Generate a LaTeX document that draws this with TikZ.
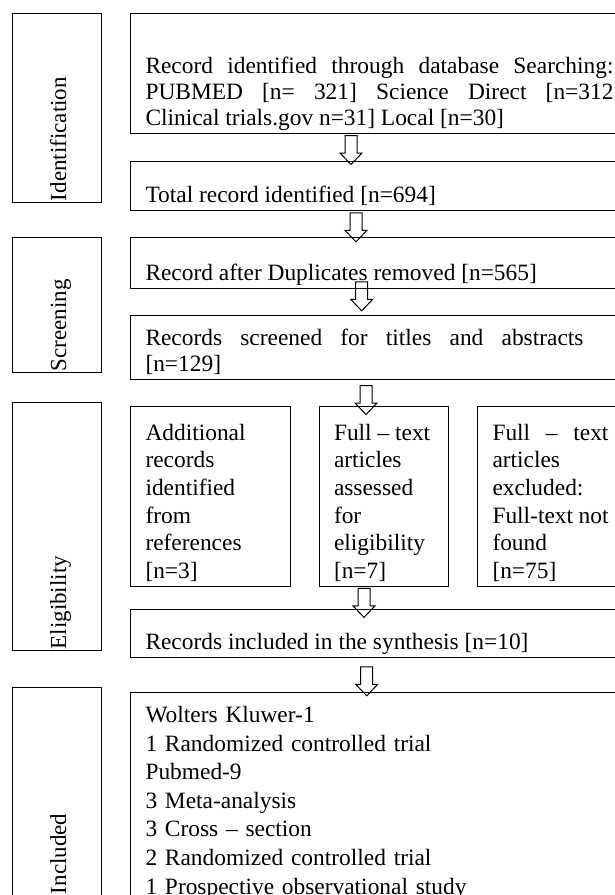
\documentclass[tikz,border=0pt]{standalone}
\usepackage{fontspec}
\setmainfont{Liberation Serif}

% text set at the bottom of a box
\newcommand{\lowtext}[3]{\parbox[b][#1][b]{#2}{#3\strut}}

\tikzset{
  hollowarrow/.pic={
    \draw[line width=1pt] (-6,0) -- (-6,17.5) -- (-11,17.5) -- (0,29) -- (11,17.5) -- (6,17.5) -- (6,0) -- cycle;
  }
}

\begin{document}
\begin{tikzpicture}[x=1pt,y=-1pt,
  every node/.style={font=\fontsize{23.4}{26}\selectfont},
  stage/.style={draw, line width=1pt, anchor=north west, inner sep=0pt, minimum width=88.4pt},
  stagename/.style={rotate=90, anchor=base west, inner sep=0pt, font=\fontsize{23}{26}\selectfont},
  box/.style={draw, line width=1pt, anchor=north west, inner xsep=15pt, inner ysep=0pt, align=left}
]
\useasboundingbox (0,0) rectangle (614,895);

% Stages on the left
\node[stage, minimum height=188.4pt] (ident) at (12.3,13.3) {};
\node[stagename] (identname) at ([xshift=53.7pt,yshift=1.5pt]ident.south west) {Identification};
\node[stage, minimum height=135.3pt] (screen) at (12.3,236.7) {};
\node[stagename] (screenname) at ([xshift=53.7pt,yshift=1.5pt]screen.south west) {Screening};
\node[stage, minimum height=248.3pt] (elig) at (12.3,401.7) {};
\node[stagename] (eligname) at ([xshift=53.7pt,yshift=1.5pt]elig.south west) {Eligibility};
\node[stage, minimum height=210pt] (incl) at (12.3,687.3) {};
\node[stagename] (inclname) at ([xshift=53.7pt,yshift=4pt]incl.south west) {Included};

% Identification
\node[box] (search) at (130,13.3) {\lowtext{111.7pt}{468pt}{Record identified through database Searching:\linebreak
  PUBMED [n= 321] Science Direct [n=312\linebreak Clinical trials.gov n=31] Local [n=30]}};
\node[box] (total) at (130,160.7) {\lowtext{41pt}{468pt}{Total record identified [n=694]}};

% Screening
\node[box] (dupl) at (130,236.7) {\lowtext{43.3pt}{468pt}{Record after Duplicates removed [n=565]}};
\node[box] (titles) at (130,315) {\lowtext{56pt}{468pt}{\makebox[438pt][s]{Records screened for titles and abstracts}\\ {[n=129]}}};

% Eligibility
\node[box, font=\fontsize{23.4}{27.7}\selectfont] (addl) at (130,406) {\lowtext{172pt}{129.7pt}{Additional\\ records\\ identified\\ from\\ references\\ {[n=3]}}};
\node[box, font=\fontsize{23.4}{27.7}\selectfont] (assessed) at (318.5,406) {\lowtext{172pt}{99.5pt}{Full – text\\ articles\\ assessed\\ for\\ eligibility\\ {[n=7]}}};
\node[box, font=\fontsize{23.4}{27.7}\selectfont] (excluded) at (477,406) {\lowtext{172pt}{116pt}{\makebox[116pt][s]{Full – text}\\ articles\\ excluded:\\ Full-text not\\ found\\ {[n=75]}}};
\node[box] (synth) at (130,609) {\lowtext{40pt}{468pt}{Records included in the synthesis [n=10]}};

% Included
\node[box, inner ysep=14pt, text width=468pt, font=\fontsize{23.4}{28.6}\selectfont] (studies) at (130,691.7) {Wolters Kluwer-1\\
  1 Randomized controlled trial\\ Pubmed-9\\ 3 Meta-analysis\\ 3 Cross – section\\
  2 Randomized controlled trial\\ 1 Prospective observational study};

% Arrows
\pic (arr1) at ([xshift=221pt,yshift=-1.7pt]search.south west) {hollowarrow};
\pic (arr2) at ([xshift=226pt,yshift=-2.3pt]total.south west) {hollowarrow};
\pic (arr3) at ([xshift=231.7pt,yshift=7pt]dupl.south west) {hollowarrow};
\pic (arr4) at ([xshift=236pt,yshift=-5.7pt]titles.south west) {hollowarrow};
\pic (arr5) at ([xshift=45.5pt,yshift=-1pt]assessed.south west) {hollowarrow};
\pic (arr6) at ([xshift=236.7pt,yshift=-9pt]synth.south west) {hollowarrow};

\end{tikzpicture}
\end{document}
